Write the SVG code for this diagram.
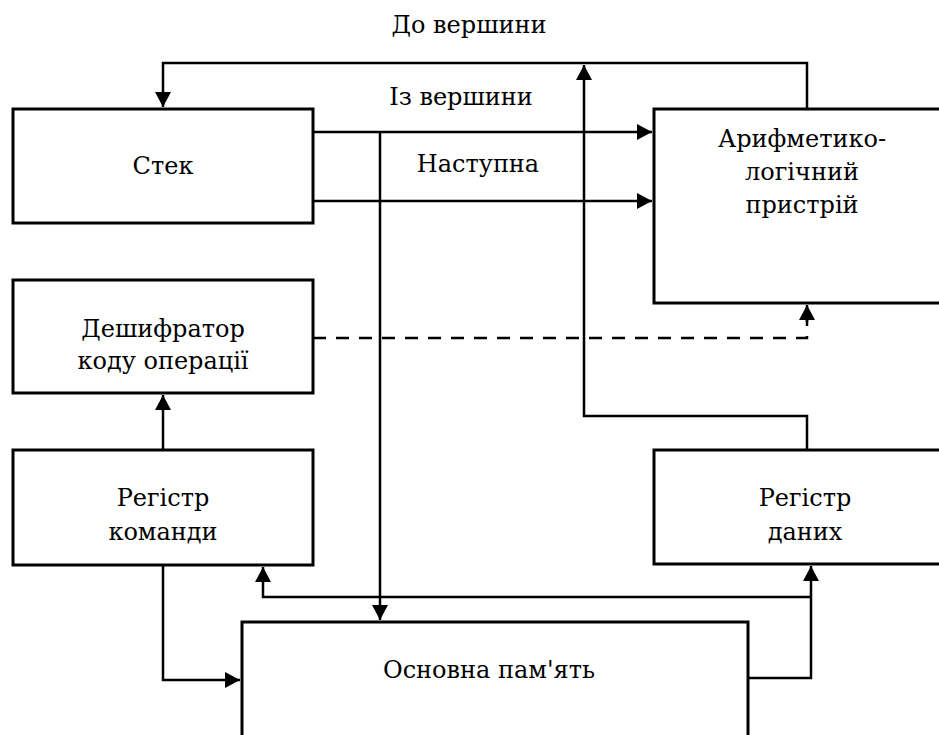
<svg xmlns="http://www.w3.org/2000/svg" width="939" height="735" viewBox="0 0 939 735">
<style>
.box{fill:#fff;stroke:#000;stroke-width:3}
.t{font-family:'DejaVu Serif',serif;font-size:24px;fill:#000;text-anchor:middle}
.ln{fill:none;stroke:#000;stroke-width:2.5}
.arr{marker-end:url(#ah)}
.dash{stroke-dasharray:13 10}
</style>
<defs>
<marker id="ah" markerUnits="userSpaceOnUse" markerWidth="16" markerHeight="16" viewBox="0 0 15 16" refX="15" refY="8" orient="auto">
<path d="M0,0 L15,8 L0,16 z" fill="#000" stroke="none"/>
</marker>
</defs>
<rect width="939" height="735" fill="#fff"/>
<g id="connectors">
<path class="ln arr" d="M807,109 V63 H163 V107"/>
<path class="ln arr" d="M313,132 H652"/>
<path class="ln arr" d="M313,201 H652"/>
<path class="ln arr" d="M380,132 V620"/>
<path class="ln dash" d="M313,338 H807 V318"/>
<path class="ln arr" d="M807,322 V305"/>
<path class="ln arr" d="M163,450 V395"/>
<path class="ln arr" d="M807,450 V416 H584 V65"/>
<path class="ln arr" d="M163,565 V680 H240"/>
<path class="ln arr" d="M748,678 H811 V566"/>
<path class="ln arr" d="M811,597 H263 V567"/>
</g>
<g id="stack"><rect class="box" x="13" y="109" width="300" height="114"/><text class="t" x="163" y="174">Стек</text></g>
<g id="alu"><rect class="box" x="654" y="109" width="300" height="194"/><text class="t" x="802" y="147">Арифметико-</text><text class="t" x="802" y="180">логічний</text><text class="t" x="802" y="213">пристрій</text></g>
<g id="decoder"><rect class="box" x="13" y="280" width="300" height="113"/><text class="t" x="163" y="337">Дешифратор</text><text class="t" x="163" y="369">коду операції</text></g>
<g id="cmdreg"><rect class="box" x="13" y="450" width="300" height="115"/><text class="t" x="163" y="506">Регістр</text><text class="t" x="163" y="540">команди</text></g>
<g id="datareg"><rect class="box" x="654" y="450" width="300" height="114"/><text class="t" x="805" y="506">Регістр</text><text class="t" x="805" y="540">даних</text></g>
<g id="memory"><rect class="box" x="242" y="622" width="506" height="200"/><text class="t" x="489" y="678">Основна пам'ять</text></g>
<g id="labels">
<text class="t" x="469" y="33">До вершини</text>
<text class="t" x="461" y="105">Із вершини</text>
<text class="t" x="478" y="172">Наступна</text>
</g>
</svg>
